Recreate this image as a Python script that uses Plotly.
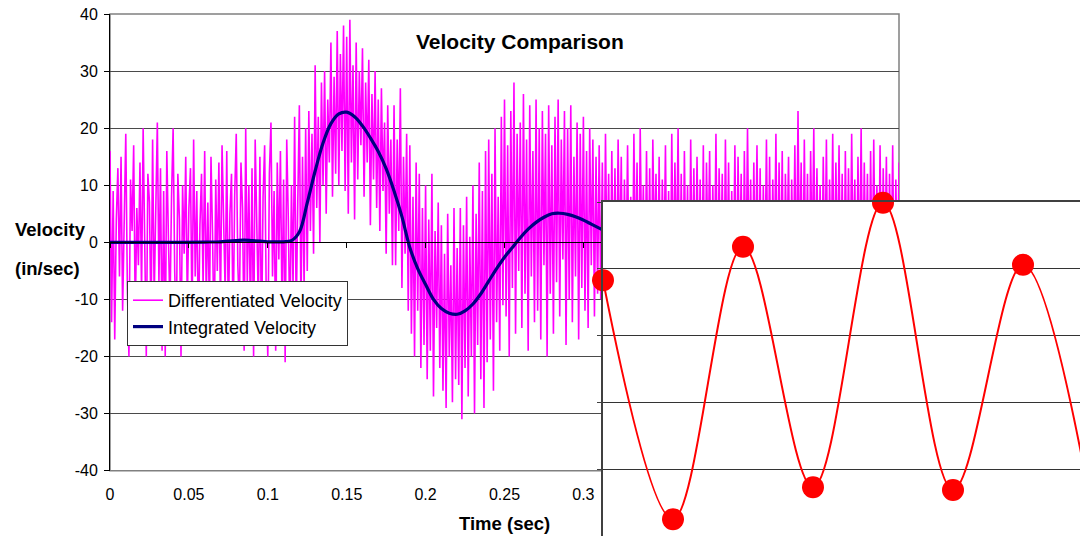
import numpy as np
import plotly.graph_objects as go

# ---------------- data ----------------
# Differentiated velocity (in/sec), sampled every 0.001 s from 0 to 0.5 s
diff_rows = [
    [16, -14, 9, -17, 4, 13, -6, 15, -12, 5],
    [19, -8, -20, 11, 2, 17, -13, 6, -4, 14],
    [-9, 20, -3, -20, 12, 7, -15, 18, -10, 3],
    [21, -7, 13, -19, 9, -20, 16, 1, -12, 8],
    [20, -5, -16, 12, 4, -20, 10, -2, 15, -11],
    [6, 13, -14, 18, -6, 9, -17, 3, 12, -8],
    [16, -10, 7, -13, 15, 1, -18, 11, -5, 14],
    [-12, 17, 2, -9, 16, -15, 5, 12, -16, 8],
    [19, -4, -12, 14, 6, -19, 20, -7, 10, -14],
    [13, -20, 18, 2, -11, 15, -18, 8, 17, -9],
    [-20, 12, 21, -6, 9, -19, 14, -3, 16, -12],
    [11, -21, 18, 4, -16, 10, -8, 22, -13, 7],
    [24, -12, 15, -8, 20, -5, 23, 2, 19, -2],
    [31, 6, 22, 0, 28, 10, 30, 5, 25, 14],
    [35, 8, 29, 12, 37, 10, 33, 16, 38, 9],
    [36, 5, 39, 14, 31, 4, 35, 11, 30, 17],
    [34, 8, 28, 14, 32, 3, 26, 11, 30, 6],
    [25, 2, 27, 9, 21, -2, 24, 5, 18, -4],
    [24, -4, 18, 2, 27, -8, 15, -2, 19, -12],
    [17, -16, 8, -20, 14, -12, 12, -22, 6, -18],
    [10, -24, 4, -19, 12, -27, 2, -15, 7, -22],
    [3, -26, -2, -29, 5, -20, -4, -28, 6, -24],
    [-1, -25, 6, -31, 3, -22, 8, -27, 1, -20],
    [10, -30, 5, -18, 14, -24, 9, -29, 16, -21],
    [18, -17, 12, -26, 20, -14, 8, -19, 22, -11],
    [25, -13, 17, -20, 23, -8, 28, -16, 19, -5],
    [21, -15, 26, -9, 18, -19, 24, -6, 16, -14],
    [25, -12, 20, -17, 23, -4, 19, -20, 24, -9],
    [17, -16, 22, -7, 25, -13, 18, -3, 23, -18],
    [20, -10, 24, -14, 15, -6, 21, -17, 19, -8],
    [22, -12, 16, -15, 20, -4, 18, -13, 15, -9],
    [17, -10, 14, -12, 19, -6, 12, -14, 16, -8],
    [13, -11, 18, -5, 15, -13, 11, -7, 17, -10],
    [8, -12, 19, -6, 14, -15, 20, -4, 10, -11],
    [16, -9, 13, -14, 18, -3, 12, -10, 15, -13],
    [11, -6, 17, -12, 9, -15, 19, -8, 14, -5],
    [20, -11, 12, -13, 16, -7, 10, -14, 18, -9],
    [13, -10, 15, -6, 11, -12, 17, -15, 14, -4],
    [16, -13, 10, -8, 19, -11, 13, -6, 12, -14],
    [18, -7, 14, -12, 9, -10, 17, -13, 15, -5],
    [12, -15, 16, -9, 20, -6, 11, -12, 14, -8],
    [17, -11, 13, -14, 10, -7, 18, -10, 15, -13],
    [11, -6, 19, -12, 14, -9, 16, -15, 12, -4],
    [15, -13, 11, -8, 17, -11, 23, -6, 14, -12],
    [18, -9, 12, -14, 16, -5, 20, -10, 13, -7],
    [10, -12, 15, -8, 18, -13, 11, -6, 19, -11],
    [14, -7, 17, -10, 12, -15, 16, -9, 13, -12],
    [19, -5, 11, -13, 15, -8, 20, -11, 14, -6],
    [12, -14, 16, -9, 18, -7, 10, -12, 17, -10],
    [13, -6, 15, -11, 12, -8, 17, -13, 11, -9],
    [14],
]
diff_velocity = [v for row in diff_rows for v in row]
diff_time = np.round(np.arange(len(diff_velocity)) * 0.001, 4)

# Integrated velocity (in/sec)
int_time = [0.0, 0.02, 0.04, 0.06, 0.07, 0.075, 0.08, 0.085, 0.09, 0.095, 0.1, 0.105,
            0.11, 0.115, 0.12, 0.125, 0.13, 0.135, 0.14, 0.145, 0.15, 0.155, 0.16,
            0.165, 0.17, 0.175, 0.18, 0.185, 0.19, 0.195, 0.2, 0.205, 0.21, 0.215,
            0.22, 0.225, 0.23, 0.235, 0.24, 0.245, 0.25, 0.255, 0.26, 0.265, 0.27,
            0.275, 0.28, 0.285, 0.29, 0.295, 0.3, 0.305, 0.31, 0.315, 0.32, 0.33,
            0.34, 0.35, 0.36, 0.37, 0.38, 0.39, 0.4, 0.42, 0.44, 0.46, 0.48, 0.5]
int_velocity = [0.0, 0.0, 0.0, 0.05, 0.1, 0.2, 0.3, 0.4, 0.3, 0.2, 0.1, 0.1,
                0.1, 0.3, 1.8, 6.9, 12.5, 17.4, 20.8, 22.5, 22.8, 22.0, 20.4,
                18.3, 15.9, 12.9, 9.0, 4.5, -0.9, -4.6, -7.4, -10.0, -11.6, -12.4,
                -12.6, -12.0, -10.8, -9.0, -6.8, -4.6, -2.6, -0.9, 0.8, 2.3, 3.5,
                4.4, 5.0, 5.1, 4.9, 4.5, 3.9, 3.2, 2.5, 1.8, 1.1, -0.2,
                -1.1, -1.5, -1.3, -0.8, 0.0, 0.5, 0.8, 0.6, 0.0, -0.4, -0.3, 0.0]

# Inset (red smoothed series with markers)
inset_x = [0, 1, 2, 3, 4, 5, 6, 7]
inset_y = [3.83, 0.25, 4.33, 0.73, 4.99, 0.69, 4.06, 0.3]

# Tick labels
x_tickvals = [0, 0.05, 0.1, 0.15, 0.2, 0.25, 0.3, 0.35, 0.4, 0.45, 0.5]
x_ticktext = ["0", "0.05", "0.1", "0.15", "0.2", "0.25", "0.3", "0.35", "0.4", "0.45", "0.5"]
y_tickvals = [-40, -30, -20, -10, 0, 10, 20, 30, 40]
y_ticktext = ["-40", "-30", "-20", "-10", "0", "10", "20", "30", "40"]

# ---------------- figure ----------------
W, H = 1080, 536
FONT = "Arial, Liberation Sans, sans-serif"

fig = go.Figure()

fig.add_trace(go.Scatter(
    x=diff_time, y=diff_velocity, mode="lines", name="Differentiated Velocity",
    line=dict(color="#FF00FF", width=1.6), xaxis="x", yaxis="y"))
fig.add_trace(go.Scatter(
    x=int_time, y=int_velocity, mode="lines", name="Integrated Velocity",
    line=dict(color="#000080", width=3.2, shape="spline"), xaxis="x", yaxis="y"))
# helper trace to register the zero-line tick axis
fig.add_trace(go.Scatter(x=[], y=[], xaxis="x3", yaxis="y", showlegend=False,
                         hoverinfo="skip"))
fig.add_trace(go.Scatter(
    x=inset_x, y=inset_y, mode="lines+markers", showlegend=False,
    line=dict(color="#FF0000", width=2, shape="spline", smoothing=1),
    marker=dict(color="#FF0000", size=22), cliponaxis=False,
    xaxis="x2", yaxis="y2"))

main_x_dom = [110 / W, 899 / W]
main_y_dom = [(H - 470.7) / H, (H - 14) / H]

fig.update_layout(
    template="none",
    width=W, height=H,
    margin=dict(l=0, r=0, t=0, b=0, pad=0, autoexpand=False),
    paper_bgcolor="white", plot_bgcolor="white",
    font=dict(family=FONT, color="black", size=16),
    xaxis=dict(domain=main_x_dom, range=[0, 0.5], tickvals=x_tickvals,
               ticktext=x_ticktext, showgrid=False, zeroline=False,
               showline=False, ticks="", tickfont=dict(size=16),
               ticklabelstandoff=12, anchor="y", automargin=False),
    yaxis=dict(domain=main_y_dom, range=[-40, 40], tickvals=y_tickvals,
               ticktext=y_ticktext, showgrid=True, gridcolor="#4a4a4a",
               gridwidth=1, zeroline=False, showline=True, linecolor="black",
               linewidth=1, ticks="outside", ticklen=5, tickcolor="black",
               tickfont=dict(size=16), ticklabelstandoff=3, anchor="x",
               automargin=False),
    xaxis3=dict(overlaying="x", anchor="free",
                position=(H - 242.3) / H, range=[0, 0.5],
                tickvals=x_tickvals, showticklabels=False, showgrid=False,
                zeroline=False, showline=True, linecolor="black", linewidth=1,
                ticks="outside", ticklen=5, tickcolor="black", side="bottom",
                automargin=False),
    xaxis2=dict(domain=[603 / W, 1], range=[0, (W - 603) / 70],
                showgrid=False, zeroline=False, showticklabels=False,
                showline=True, mirror=True, linecolor="#404040", linewidth=1.5,
                ticks="", anchor="y2", automargin=False),
    yaxis2=dict(domain=[0, (H - 202) / H], range=[0, 5],
                tickvals=[0, 1, 2, 3, 4, 5], showticklabels=False,
                showgrid=True, gridcolor="#333333", gridwidth=1,
                zeroline=False, showline=True, linecolor="#404040",
                linewidth=1.5, ticks="outside", ticklen=4, tickcolor="#404040",
                anchor="x2", automargin=False),
    legend=dict(x=127 / W, y=(H - 281) / H, xanchor="left", yanchor="top",
                bgcolor="white", bordercolor="#333333", borderwidth=1,
                font=dict(family=FONT, size=18, color="black"),
                tracegroupgap=0, itemwidth=30),
    showlegend=True,
)

# plot-area border of the main chart
fig.add_shape(type="rect", xref="x domain", yref="y domain",
              x0=0, x1=1, y0=0, y1=1, line=dict(color="#808080", width=1.5),
              layer="below")

annots = [
    dict(text="<b>Velocity Comparison</b>", x=520 / W, y=(H - 41) / H,
         size=21, xanchor="center"),
    dict(text="<b>Velocity</b>", x=13 / W, y=(H - 229) / H, size=18.5,
         xanchor="left"),
    dict(text="<b>(in/sec)</b>", x=13 / W, y=(H - 268) / H, size=18.5,
         xanchor="left"),
    dict(text="<b>Time (sec)</b>", x=504 / W, y=(H - 523) / H, size=18.5,
         xanchor="center"),
]
for a in annots:
    fig.add_annotation(text=a["text"], x=a["x"], y=a["y"], xref="paper",
                       yref="paper", showarrow=False, xanchor=a["xanchor"],
                       yanchor="middle",
                       font=dict(family=FONT, size=a["size"], color="black"))

fig.write_html(
    "out.html",
    config={"displayModeBar": False},
    post_script="document.body.style.margin='0px';"
                "document.body.style.overflow='hidden';")
